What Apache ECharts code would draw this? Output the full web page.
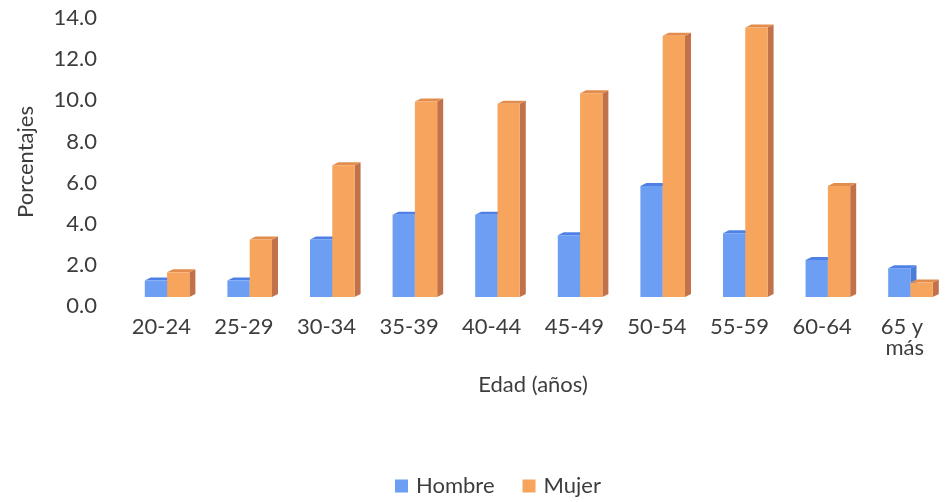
<!DOCTYPE html>
<html>
<head>
<meta charset="utf-8">
<script src="https://cdn.jsdelivr.net/npm/echarts@6/dist/echarts.min.js"></script>
<style>
  html, body { margin: 0; padding: 0; background: #ffffff; }
  #chart { width: 946px; height: 502px; }
</style>
</head>
<body>
<div id="chart"></div>
<script>
// Age groups and share of each sex (%)
const ageGroups = ['20-24', '25-29', '30-34', '35-39', '40-44', '45-49', '50-54', '55-59', '60-64', '65 y más'];
const hombre = [0.8, 0.8, 2.8, 4.0, 4.0, 3.0, 5.4, 3.1, 1.8, 1.4];
const mujer  = [1.2, 2.8, 6.4, 9.5, 9.4, 9.9, 12.7, 13.1, 5.4, 0.7];
const seriesNames = ['Hombre', 'Mujer'];
const yTicks = { min: 0, max: 14, interval: 2 };

const TEXT = '#3d3d3d';
const FONT = 'Lato';

const palette = [
  { front: '#6C9EF3', side: '#4C7CD8', top: '#4F80E6' },
  { front: '#F7A45C', side: '#C2724A', top: '#E38D4C' }
];

// Column with a shallow 3D look: front face, right side face and top face.
function makeRenderer(slot) {
  return function (params, api) {
    const idx = api.value(0);
    const val = api.value(1);
    const band = api.size([1, 0])[0];
    const w = band * 0.27;
    const shiftX = band * 0.07;   // depth offset of the column row
    const shiftY = -9;
    const dx = 6, dy = 3;         // depth of each column
    const base = api.coord([idx, 0]);
    const top = api.coord([idx, val]);
    const x0 = base[0] + shiftX + (slot === 0 ? -w : 0);
    const x1 = x0 + w;
    const yb = base[1] + shiftY;
    const yt = top[1] + shiftY;
    const c = palette[slot];
    return {
      type: 'group',
      children: [
        {
          type: 'polygon',
          shape: { points: [[x1, yb], [x1 + dx, yb - dy], [x1 + dx, yt - dy], [x1, yt]] },
          style: { fill: c.side }
        },
        {
          type: 'polygon',
          shape: { points: [[x0, yt], [x1, yt], [x1 + dx, yt - dy], [x0 + dx, yt - dy]] },
          style: { fill: c.top }
        },
        {
          type: 'rect',
          shape: { x: x0, y: yt, width: w, height: yb - yt },
          style: { fill: c.front }
        }
      ]
    };
  };
}

function toData(values) {
  return values.map((v, i) => [i, v]);
}

const chart = echarts.init(document.getElementById('chart'), null, { renderer: 'canvas' });

chart.setOption({
  backgroundColor: '#ffffff',
  animation: false,
  textStyle: { fontFamily: FONT, color: TEXT },
  grid: { left: 120, top: 18, width: 840, height: 288 },
  legend: {
    left: 390,
    top: 470,
    icon: 'rect',
    itemWidth: 13,
    itemHeight: 13,
    itemGap: 28,
    textStyle: { fontFamily: FONT, fontSize: 22, color: TEXT, padding: [0, 0, 0, 3] },
    data: seriesNames
  },
  xAxis: {
    type: 'category',
    data: ageGroups,
    axisLine: { show: false },
    axisTick: { show: false },
    splitLine: { show: false },
    axisLabel: {
      interval: 0,
      margin: 10,
      fontFamily: FONT,
      fontSize: 22,
      lineHeight: 21,
      color: TEXT,
      width: 66,
      overflow: 'break'
    },
    name: 'Edad (años)',
    nameLocation: 'middle',
    nameGap: 79,
    nameTextStyle: { fontFamily: FONT, fontSize: 22, color: TEXT, verticalAlign: 'middle' }
  },
  yAxis: {
    type: 'value',
    min: yTicks.min,
    max: yTicks.max,
    interval: yTicks.interval,
    axisLine: { show: false },
    axisTick: { show: false },
    splitLine: { show: false },
    axisLabel: {
      margin: 23,
      fontFamily: FONT,
      fontSize: 22,
      color: TEXT,
      formatter: v => v.toFixed(1)
    },
    name: 'Porcentajes',
    nameLocation: 'middle',
    nameGap: 94,
    nameRotate: 90,
    nameTextStyle: { fontFamily: FONT, fontSize: 22, color: TEXT, verticalAlign: 'middle' }
  },
  series: [
    {
      name: seriesNames[0],
      type: 'custom',
      renderItem: makeRenderer(0),
      encode: { x: 0, y: 1 },
      itemStyle: { color: palette[0].front },
      data: toData(hombre)
    },
    {
      name: seriesNames[1],
      type: 'custom',
      renderItem: makeRenderer(1),
      encode: { x: 0, y: 1 },
      itemStyle: { color: palette[1].front },
      data: toData(mujer)
    }
  ]
});
</script>
</body>
</html>
